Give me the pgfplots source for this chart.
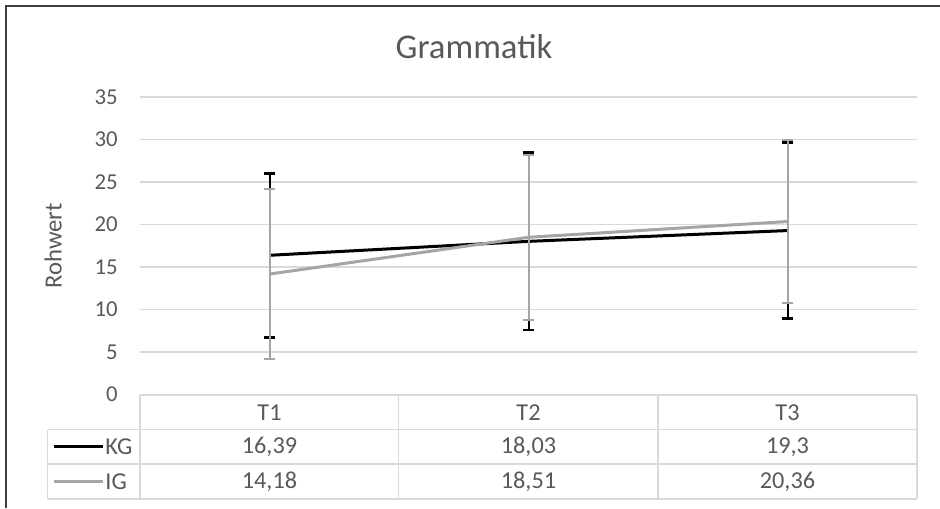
\documentclass[border=0pt]{standalone}
\usepackage{pgfplots}
\pgfplotsset{compat=1.18}
\usepackage{fontspec}
\setmainfont{Carlito}
\definecolor{txt}{HTML}{595959}
\definecolor{grd}{HTML}{D9D9D9}
\definecolor{igc}{HTML}{A5A5A5}
\newlength\pxu \setlength\pxu{0.4615pt}
\begin{document}
\begin{tikzpicture}
\path[use as bounding box] (0,0) rectangle (940\pxu,-508\pxu);
\begin{axis}[at={(140\pxu,-394.6\pxu)}, anchor=south west, scale only axis,
  width=777\pxu, height=297.5\pxu,
  xmin=0.5, xmax=3.5, ymin=0, ymax=35,
  ytick={0,5,...,35}, xtick=\empty,
  ymajorgrids, grid style={grd, line width=1.3\pxu},
  axis line style={draw=none}, major tick length=0pt,
  /pgf/number format/assume math mode=true,
  yticklabel style={font=\fontsize{10.5}{12}\selectfont, text=txt, inner sep=0pt, anchor=east, xshift=-22\pxu},
  clip=false]
\addplot[black, line width=3\pxu, error bars/.cd, y dir=both, y explicit,
  error bar style={black, line width=2\pxu},
  error mark options={black, rotate=90, mark size=5.5\pxu, line width=2.5\pxu}]
  coordinates {(1,16.39) +- (0,9.65) (2,18.03) +- (0,10.45) (3,19.3) +- (0,10.35)};
\addplot[igc, line width=3\pxu, error bars/.cd, y dir=both, y explicit,
  error bar style={igc, line width=2\pxu},
  error mark options={igc, rotate=90, mark size=5.5\pxu, line width=2\pxu}]
  coordinates {(1,14.18) +- (0,10.0) (2,18.51) +- (0,9.72) (3,20.36) +- (0,9.6)};
\end{axis}
\begin{scope}[x=\pxu,y=-\pxu]
\draw[black!75, line width=2\pxu] (6,508) -- (6,6) -- (940,6);
\node[font=\fontsize{16}{18}\selectfont, text=txt, anchor=base] at (474,58.3) {Grammatik};
\node[font=\fontsize{11.4}{13}\selectfont, text=txt, anchor=base, rotate=90] at (61.7,246) {Rohwert};
% data table
\draw[grd, line width=1.5\pxu] (140,395) -- (917,395);
\draw[grd, line width=1.5\pxu] (47.7,429.5) -- (917,429.5);
\draw[grd, line width=1.5\pxu] (47.7,464) -- (917,464);
\draw[grd, line width=1.5\pxu] (47.7,499) -- (917,499);
\draw[grd, line width=1.5\pxu] (47.7,429.5) -- (47.7,499);
\draw[grd, line width=1.5\pxu] (140,395) -- (140,499);
\draw[grd, line width=1.5\pxu] (398.7,395) -- (398.7,499);
\draw[grd, line width=1.5\pxu] (658,395) -- (658,499);
\draw[grd, line width=1.5\pxu] (917,395) -- (917,499);
\begin{scope}[every node/.style={font=\fontsize{11.2}{13}\selectfont, text=txt}]
\node at (269.5,412.2) {T1};
\node at (528.5,412.2) {T2};
\node at (787.5,412.2) {T3};
\node at (269.5,446.7) {16,39};
\node at (528.5,446.7) {18,03};
\node at (787.5,446.7) {19,3};
\node at (269.5,481.5) {14,18};
\node at (528.5,481.5) {18,51};
\node at (787.5,481.5) {20,36};
\draw[black, line width=3\pxu] (54,446.2) -- (103,446.2);
\draw[igc, line width=3\pxu] (54,481) -- (103,481);
\node[anchor=west, inner sep=0pt] at (105,446.7) {KG};
\node[anchor=west, inner sep=0pt] at (105,481.5) {IG};
\end{scope}
\end{scope}
\end{tikzpicture}
\end{document}
